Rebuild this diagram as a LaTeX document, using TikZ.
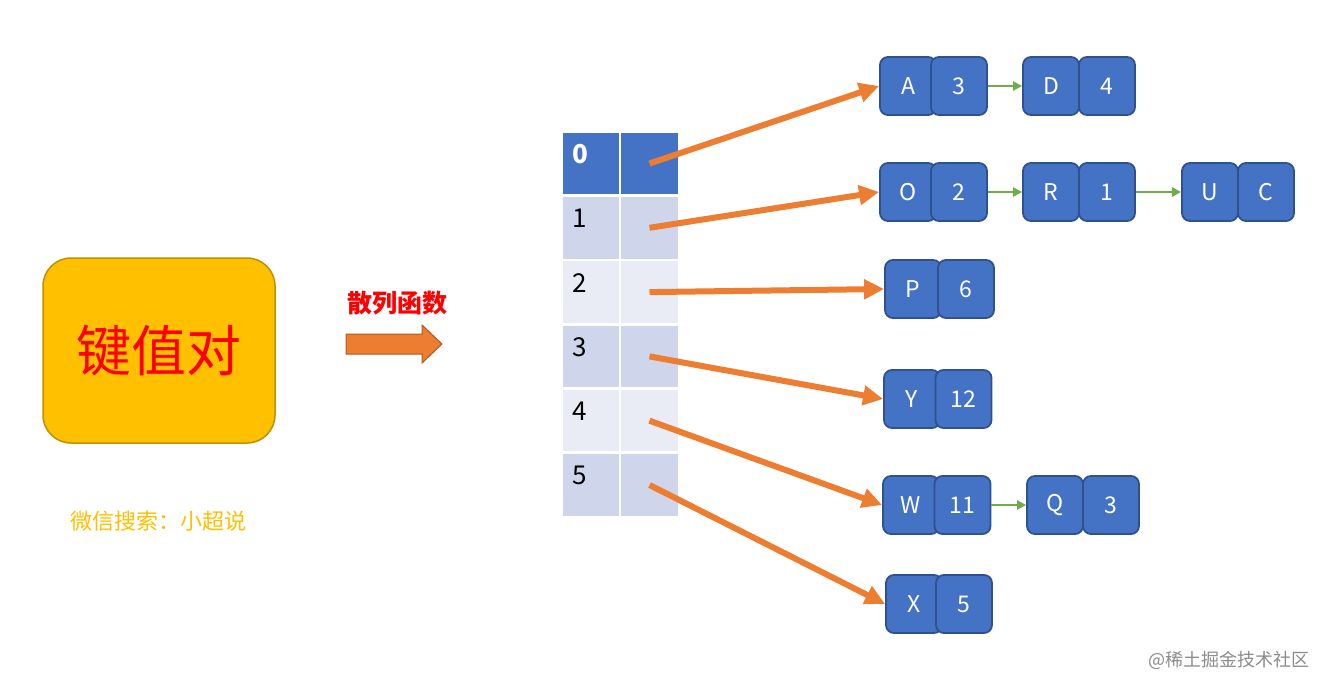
\documentclass[tikz,border=0pt]{standalone}
\usepackage{fontspec}
\setmainfont{Noto Sans CJK SC}
\usepackage{xcolor}
\usetikzlibrary{positioning, arrows.meta}
\definecolor{cellblue}{HTML}{4472C4}
\definecolor{boxedge}{HTML}{2F528F}
\definecolor{rowdark}{HTML}{CFD5EA}
\definecolor{rowlight}{HTML}{E9EBF5}
\definecolor{hashorange}{HTML}{ED7D31}
\definecolor{hashedge}{HTML}{AE5A21}
\definecolor{chaingreen}{HTML}{70AD47}
\definecolor{kvfill}{HTML}{FFC000}
\definecolor{kvedge}{HTML}{BF9000}

\begin{document}
\begin{tikzpicture}[x=1pt, y=-1pt,
    keybox/.style={draw=boxedge, fill=cellblue, rounded corners=8pt, line width=1.8pt,
        minimum width=56pt, minimum height=58pt, inner sep=0pt, text=white,
        font=\fontsize{23}{27}\selectfont},
    cell/.style={minimum height=61.5pt, inner sep=0pt},
    hasharrow/.style={draw=hashorange, line width=6pt, -{Triangle[length=20pt,width=19pt]}},
    chainarrow/.style={draw=chaingreen, line width=2.5pt, -{Triangle[length=9pt,width=9pt]}}]
\useasboundingbox[fill=white] (0,0) rectangle (1328,691);
% Key-value block
\node[draw=kvedge, fill=kvfill, rounded corners=28pt, line width=1.5pt,
    minimum width=232pt, minimum height=185pt, text=red,
    font=\fontsize{55}{60}\selectfont] (kv) at (159,350.5) {键值对};
\node[text=kvfill, font=\fontsize{22}{26}\selectfont] (wx) at (158,521) {微信搜索：小超说};
% Hash function arrow
\node[text=red, font=\fontsize{25}{30}\selectfont\bfseries] (hf) at (397,303) {散列函数};
\filldraw[fill=hashorange, draw=hashedge, line width=1pt]
    (346,334) -- (422,334) -- (422,325) -- (442,344) -- (422,363) -- (422,354)
    -- (346,354) -- cycle;
% Table
\foreach \i/\fc in {0/cellblue,1/rowdark,2/rowlight,3/rowdark,4/rowlight,5/rowdark}{
    \pgfmathsetmacro{\yc}{163.5+64.3*\i}
    \node[cell, fill=\fc, minimum width=56pt] (c\i l) at (591,\yc) {};
    \node[cell, fill=\fc, minimum width=57pt] (c\i r) at (649.5,\yc) {};
}
\node[anchor=north west, inner sep=0pt, xshift=9pt, yshift=-12pt, text=white,
    font=\fontsize{26}{30}\selectfont\bfseries] at (c0l.north west) {0};
\foreach \i in {1,...,5}{
    \node[anchor=north west, inner sep=0pt, xshift=9pt, yshift=-12pt,
        font=\fontsize{26}{30}\selectfont] at (c\i l.north west) {\i};
}
% Chained pairs: name/left x/y/key/value/value offset
\foreach \n/\x/\y/\k/\v/\dx in {a/880/86/A/3/79, d/1023/86/D/4/84, o/880/192/O/2/79,
    r/1023/192/R/1/84, u/1182/192/U/C/84, p/885/289/P/6/81, y/884/399/Y/12/79.5,
    w/883/505/W/11/79.5, q/1027/505/Q/3/84, x/886/604/X/5/78}{
    \node[keybox] (k\n) at (\x+28,\y) {\k};
    \node[keybox] (v\n) at (\x+\dx,\y) {\v};
}
% Bucket pointers
\foreach \i/\n in {0/a,1/o,2/p,3/y,4/w,5/x}{
    \draw[hasharrow] (c\i r.center) -- (k\n.west);
}
% Next pointers
\draw[chainarrow] (va) -- (kd);
\draw[chainarrow] (vo) -- (kr);
\draw[chainarrow] (vr) -- (ku);
\draw[chainarrow] (vw) -- (kq);
% Watermark
\node[text=black!45, font=\fontsize{18}{22}\selectfont] (wm) at (1229,660) {@稀土掘金技术社区};
\end{tikzpicture}
\end{document}
